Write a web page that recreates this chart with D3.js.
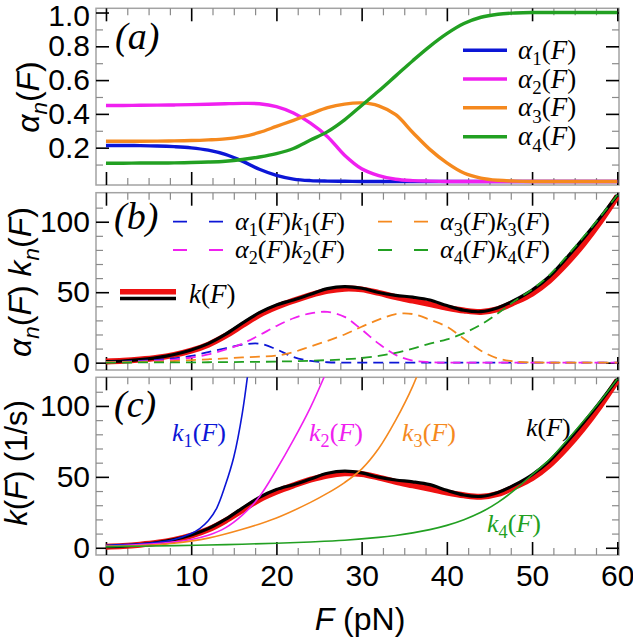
<!DOCTYPE html>
<html><head><meta charset="utf-8">
<script src="https://cdn.jsdelivr.net/npm/d3@7"></script>
<style>
body{margin:0;background:#fff}
svg{display:block}
</style></head><body>
<svg id="chart" width="633" height="640"></svg>
<script>
// ---------- data ----------
const F = [0,2,4,6,8,10,12,14,16,18,20,22,24,26,28,30,32,34,36,38,40,42,44,46,48,50,52,54,56,58,60];

// panel (a): occupation probabilities
const alpha1 = [0.213,0.213,0.212,0.210,0.206,0.199,0.185,0.160,0.120,0.072,0.036,0.014,0.005,0.002,0.001,0,0,0,0,0,0,0,0,0,0,0,0,0,0,0,0];
const alpha2 = [0.450,0.450,0.451,0.452,0.453,0.455,0.457,0.460,0.462,0.460,0.443,0.405,0.345,0.265,0.155,0.075,0.035,0.013,0.005,0.002,0,0,0,0,0,0,0,0,0,0,0];
const alpha3 = [0.238,0.238,0.238,0.239,0.240,0.242,0.246,0.252,0.265,0.290,0.326,0.362,0.400,0.437,0.458,0.465,0.448,0.395,0.290,0.190,0.110,0.050,0.020,0.007,0.002,0,0,0,0,0,0];
const alpha4 = [0.108,0.108,0.109,0.109,0.110,0.112,0.115,0.120,0.130,0.145,0.165,0.195,0.245,0.295,0.365,0.450,0.535,0.625,0.715,0.800,0.875,0.935,0.972,0.990,0.997,1,1,1,1,1,1];

// panel (b): weighted rates and total rate
const a1k1 = [0.5,0.8,1.3,2.0,3.1,4.8,7.5,10.2,12.8,13.5,9.5,4.0,1.2,0.3,0,0,0,0,0,0,0,0,0,0,0,0,0,0,0,0,0];
const a2k2 = [0.4,0.6,0.9,1.4,2.2,3.6,5.8,9.2,13.5,19.5,26,31.5,35,36,32.5,23.5,13.5,5.5,1.5,0.4,0,0,0,0,0,0,0,0,0,0,0];
const a3k3 = [0.3,0.4,0.6,0.8,1.2,1.8,2.4,3.0,3.7,4.3,5.0,7.5,11.5,15.5,20,25.5,30.5,34.5,34.5,30.5,25.5,17,8.5,3,0.8,0.2,0,0,0,0,0];
const a4k4 = [0.1,0.1,0.15,0.2,0.2,0.25,0.3,0.4,0.5,0.6,0.8,1.0,1.4,1.8,2.4,3.3,4.8,7.0,10,13.5,16.5,21,27,35,44,52,62,75,89,103.5,119];
const kData = [0.7,1.2,2.2,3.6,5.8,9,13.5,20,28,35.5,41,44.5,48.5,52.5,54,52.8,49.8,47.8,46.5,44.5,40.5,37.2,36.2,39,44.5,51.5,61,74,88,103,119];
const kFit  = [0.8,1.3,2.2,3.5,5.5,8.5,12.8,19,26.5,34,39.5,44,48,51,52.5,52,49.5,46.5,44,41.5,39,37,36,38,43,49,58,70,84,100,118];

// panel (c): individual rates
const k1F = [0,2,4,6,8,10,11,12,13,14,15,16,17];
const k1  = [1.8,2.2,2.8,3.8,5.8,10,13.5,19,28,44,64,95,140];
const k2F = [0,2,4,6,8,10,12,14,16,18,20,22,24,26];
const k2  = [1.2,1.6,2.2,3.0,4.2,5.8,8.8,14,23,36,55,76,99,126];
const k3F = [0,4,8,12,16,20,24,26,28,30,32,34,36,38];
const k3  = [1.0,1.6,3.2,6.8,13,21,32,38.5,46,55.5,70,90,114,145];
const k4F = [0,4,8,12,16,20,24,28,32,34,36,38,40,42,44,46,48,50,52,54,56,58,60];
const k4  = [0.8,1.1,1.5,2.0,2.5,3.2,4.1,5.3,7.3,8.7,10.5,12.8,15.8,19.8,25,32,41,51.5,62,75,89,103.5,119];

// ticks
const xMajor = [0,10,20,30,40,50,60];
const xMinor = [2.5,5,7.5,12.5,15,17.5,22.5,25,27.5,32.5,35,37.5,42.5,45,47.5,52.5,55,57.5];
const aMajor = [0.2,0.4,0.6,0.8,1.0];
const aMinor = [0.1,0.3,0.5,0.7,0.9];
const kMajor = [0,50,100];
const kMinor = [10,20,30,40,60,70,80,90,110];

// ---------- drawing ----------
const C = {blue:"#0c16d6", mag:"#f020f0", orange:"#f5891e", green:"#22a022", red:"#ee1111", black:"#000"};
const svg = d3.select("#chart");
const x = d3.scaleLinear().domain([-1.17,60.2]).range([96,619]);
const X0 = 96, X1 = 619;
const SANS = "'Liberation Sans', Arial, Helvetica, sans-serif";
const SERIF = "'Liberation Serif', 'Times New Roman', serif";

const panels = [
  {id:"a", y:d3.scaleLinear().domain([-0.021,1.025]).range([185,8.3]), major:aMajor, minor:aMinor, fmt:d3.format(".1f")},
  {id:"b", y:d3.scaleLinear().domain([-5.2,120.6]).range([370,192.7]), major:kMajor, minor:kMinor, fmt:d3.format("d")},
  {id:"c", y:d3.scaleLinear().domain([-5.1,120.2]).range([555,377.3]), major:kMajor, minor:kMinor, fmt:d3.format("d")}
];

const defs = svg.append("defs");
panels.forEach(p=>{
  const [b,t] = p.y.range();
  p.top=t; p.bot=b;
  defs.append("clipPath").attr("id","clip-"+p.id).append("rect")
    .attr("x",X0).attr("y",t).attr("width",X1-X0).attr("height",b-t);
});

function styleAxis(g, color, width){
  g.select(".domain").remove();
  g.selectAll(".tick line").attr("stroke",color).attr("stroke-width",width);
  g.attr("font-family",SANS).attr("font-size",30);
  g.selectAll(".tick text").attr("fill","#000");
}

panels.forEach((p,i)=>{
  const g = svg.append("g");
  g.append("rect").attr("x",X0).attr("y",p.top).attr("width",X1-X0).attr("height",p.bot-p.top)
    .attr("fill","none").attr("stroke","#a3a3a3").attr("stroke-width",1.5);
  // minor ticks
  g.append("g").attr("transform",`translate(${X0},0)`).call(d3.axisLeft(p.y).tickValues(p.minor).tickSize(-7).tickFormat("")).call(s=>styleAxis(s,"#8a8a8a",1.2));
  g.append("g").attr("transform",`translate(${X1},0)`).call(d3.axisRight(p.y).tickValues(p.minor).tickSize(-7).tickFormat("")).call(s=>styleAxis(s,"#8a8a8a",1.2));
  g.append("g").attr("transform",`translate(0,${p.top})`).call(d3.axisTop(x).tickValues(xMinor).tickSize(-7).tickFormat("")).call(s=>styleAxis(s,"#8a8a8a",1.2));
  g.append("g").attr("transform",`translate(0,${p.bot})`).call(d3.axisBottom(x).tickValues(xMinor).tickSize(-7).tickFormat("")).call(s=>styleAxis(s,"#8a8a8a",1.2));
  // major ticks
  const left = g.append("g").attr("transform",`translate(${X0},0)`).call(d3.axisLeft(p.y).tickValues(p.major).tickSize(-13).tickPadding(6).tickFormat(p.fmt)).call(s=>styleAxis(s,"#000",1.6));
  if(i===0) left.selectAll(".tick text").filter(d=>d===1.0).attr("dy","0.42em");
  g.append("g").attr("transform",`translate(${X1},0)`).call(d3.axisRight(p.y).tickValues(p.major).tickSize(-13).tickFormat("")).call(s=>styleAxis(s,"#000",1.6));
  g.append("g").attr("transform",`translate(0,${p.top})`).call(d3.axisTop(x).tickValues(xMajor).tickSize(-13).tickFormat("")).call(s=>styleAxis(s,"#000",1.6));
  g.append("g").attr("transform",`translate(0,${p.bot})`).call(d3.axisBottom(x).tickValues(xMajor).tickSize(-13).tickPadding(10).tickFormat(i===2? d3.format("d") : "")).call(s=>styleAxis(s,"#000",1.6));
});

function line(y, xs){
  return d3.line().x((d,i)=>x(xs[i])).y(d=>y(d)).curve(d3.curveCatmullRom.alpha(0.5));
}
function plot(p, xs, ys, color, width, dash){
  const path = svg.append("g").attr("clip-path",`url(#clip-${p.id})`).append("path")
    .datum(ys).attr("d", line(p.y, xs)).attr("fill","none")
    .attr("stroke",color).attr("stroke-width",width).attr("stroke-linejoin","round");
  if(dash) path.attr("stroke-dasharray",dash);
  return path;
}

const [pa,pb,pc] = panels;
// panel (a)
plot(pa, F, alpha1, C.blue, 3.4);
plot(pa, F, alpha2, C.mag, 3.4);
plot(pa, F, alpha3, C.orange, 3.4);
plot(pa, F, alpha4, C.green, 3.4);

// panel (b)
plot(pb, F, kFit, C.red, 6);
plot(pb, F, kData, C.black, 3.2);
plot(pb, F, a1k1, C.blue, 1.8, "10,6");
plot(pb, F, a2k2, C.mag, 1.8, "10,6");
plot(pb, F, a3k3, C.orange, 1.8, "10,6");
plot(pb, F, a4k4, C.green, 1.8, "10,6");

// panel (c)
plot(pc, F, kFit, C.red, 6);
plot(pc, F, kData, C.black, 3.2);
plot(pc, k1F, k1, C.blue, 1.6);
plot(pc, k2F, k2, C.mag, 1.6);
plot(pc, k3F, k3, C.orange, 1.6);
plot(pc, k4F, k4, C.green, 1.6);

// ---------- text helpers ----------
function mtext(parent, parts, opt){
  const size = opt.size;
  const t = parent.append("text").attr("x",opt.x||0).attr("y",opt.y||0)
    .attr("font-family",opt.family).attr("font-size",size).attr("fill",opt.fill||"#000");
  if(opt.anchor) t.attr("text-anchor",opt.anchor);
  if(opt.transform) t.attr("transform",opt.transform);
  let shift = 0;
  parts.forEach(pt=>{
    const s = t.append("tspan").text(pt.t);
    if(pt.i) s.attr("font-style","italic");
    const want = pt.sub ? size*0.24 : 0;
    if(want!==shift){ s.attr("dy", want-shift); shift = want; }
    if(pt.sub) s.attr("font-size", size*0.7);
  });
  return t;
}
const alphaN = (n)=>[{t:"α",i:true},{t:String(n),sub:true},{t:"("},{t:"F",i:true},{t:")"}];
const kN = (n)=>[{t:"k",i:true},{t:String(n),sub:true},{t:"("},{t:"F",i:true},{t:")"}];

// panel labels
mtext(svg, [{t:"(a)",i:true}], {x:115,y:49,size:38,family:SERIF});
mtext(svg, [{t:"(b)",i:true}], {x:114,y:229,size:38,family:SERIF});
mtext(svg, [{t:"(c)",i:true}], {x:114,y:417,size:38,family:SERIF});

// axis titles
mtext(svg, [{t:"α",i:true},{t:"n",i:true,sub:true},{t:"("},{t:"F",i:true},{t:")"}],
  {size:32,family:SANS,anchor:"middle",transform:"translate(39,97) rotate(-90)"});
mtext(svg, [{t:"α",i:true},{t:"n",i:true,sub:true},{t:"("},{t:"F",i:true},{t:") "},{t:"k",i:true},{t:"n",i:true,sub:true},{t:"("},{t:"F",i:true},{t:")"}],
  {size:32,family:SANS,anchor:"middle",transform:"translate(31,282) rotate(-90)"});
mtext(svg, [{t:"k",i:true},{t:"("},{t:"F",i:true},{t:") (1/s)"}],
  {size:31,family:SANS,anchor:"middle",transform:"translate(27,463) rotate(-90)"});
mtext(svg, [{t:"F",i:true},{t:" (pN)"}], {x:360,y:630,size:32,family:SANS,anchor:"middle"});

// legend (a)
const legA = [[C.blue,1],[C.mag,2],[C.orange,3],[C.green,4]];
const legAy = [50.3,79,107.7,136.7];
legA.forEach((d,i)=>{
  svg.append("line").attr("x1",463).attr("x2",507).attr("y1",legAy[i]).attr("y2",legAy[i])
    .attr("stroke",d[0]).attr("stroke-width",3.4);
  mtext(svg, alphaN(d[1]), {x:518,y:legAy[i]+8.5,size:27,family:SERIF});
});

// legend (b)
const legB = [[C.blue,1,173,221.7],[C.mag,2,173,250],[C.orange,3,378,221.7],[C.green,4,378,250]];
legB.forEach(d=>{
  svg.append("line").attr("x1",d[2]).attr("x2",d[2]+54).attr("y1",d[3]).attr("y2",d[3])
    .attr("stroke",d[0]).attr("stroke-width",1.8).attr("stroke-dasharray","14,22");
  mtext(svg, alphaN(d[1]).concat(kN(d[1])), {x:d[2]+62,y:d[3]+8,size:26,family:SERIF});
});
svg.append("line").attr("x1",120).attr("x2",176).attr("y1",291.7).attr("y2",291.7).attr("stroke",C.red).attr("stroke-width",5.5);
svg.append("line").attr("x1",120).attr("x2",176).attr("y1",298.5).attr("y2",298.5).attr("stroke",C.black).attr("stroke-width",3.4);
mtext(svg, [{t:"k",i:true},{t:"("},{t:"F",i:true},{t:")"}], {x:189,y:303,size:27,family:SERIF});

// panel (c) annotations
mtext(svg, kN(1), {x:172,y:441,size:26,family:SERIF,fill:C.blue});
mtext(svg, kN(2), {x:309,y:441,size:26,family:SERIF,fill:C.mag});
mtext(svg, kN(3), {x:402,y:441,size:26,family:SERIF,fill:C.orange});
mtext(svg, [{t:"k",i:true},{t:"("},{t:"F",i:true},{t:")"}], {x:526,y:436,size:26,family:SERIF});
mtext(svg, kN(4), {x:487,y:532,size:26,family:SERIF,fill:C.green});
</script>
</body></html>
